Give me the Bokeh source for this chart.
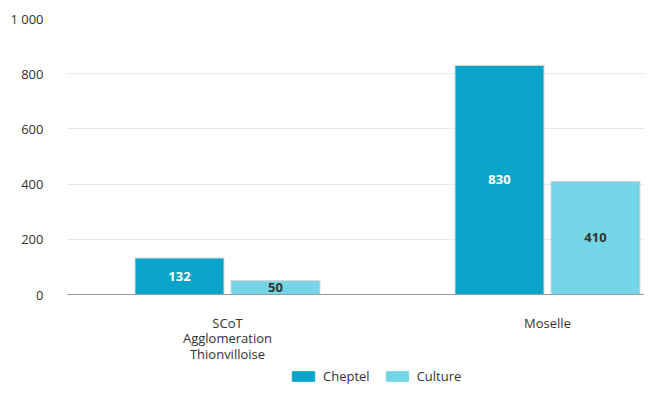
from bokeh.plotting import figure
from bokeh.layouts import column
from bokeh.models import ColumnDataSource, Range1d, FixedTicker, Legend, LegendItem
from bokeh.transform import dodge
from bokeh.embed import file_html
from bokeh.resources import INLINE
from bokeh.core.properties import value

categories = ["SCoT\nAgglomeration\nThionvilloise", "Moselle"]
series = ["Cheptel", "Culture"]
cheptel = [132, 830]
culture = [50, 410]
colors = ["#0aa4ca", "#74d5e6"]
label_colors = ["#ffffff", "#333333"]
y_ticks = [0, 200, 400, 600, 800, 1000]
y_tick_labels = ["0", "200", "400", "600", "800", "1 000"]

FONT = "Open Sans"

xs = [i + 0.5 for i in range(len(categories))]
src = ColumnDataSource(dict(
    x=xs,
    cheptel=cheptel,
    culture=culture,
    cheptel_mid=[v / 2 for v in cheptel],
    culture_mid=[v / 2 for v in culture],
    cheptel_txt=[str(v) for v in cheptel],
    culture_txt=[str(v) for v in culture],
))

p = figure(width=644, height=367, output_backend="svg", toolbar_location=None,
           x_range=Range1d(0, 577 / 320), y_range=Range1d(0, 1000),
           min_border_left=67, min_border_right=0, min_border_top=18, min_border_bottom=73)
p.outline_line_color = None

r1 = p.vbar(x=dodge("x", -0.15, range=p.x_range), top="cheptel", width=0.278, source=src,
            fill_color=colors[0], line_color="#d6d6d6", line_width=1)
r2 = p.vbar(x=dodge("x", 0.15, range=p.x_range), top="culture", width=0.278, source=src,
            fill_color=colors[1], line_color="#d6d6d6", line_width=1)

p.text(x=dodge("x", -0.15, range=p.x_range), y="cheptel_mid", text="cheptel_txt", source=src,
       text_align="center", text_baseline="middle", text_color=label_colors[0],
       text_font=value(FONT), text_font_size="13px", text_font_style="bold")
p.text(x=dodge("x", 0.15, range=p.x_range), y="culture_mid", text="culture_txt", source=src,
       text_align="center", text_baseline="middle", text_color=label_colors[1],
       text_font=value(FONT), text_font_size="13px", text_font_style="bold")

p.xgrid.grid_line_color = None
p.ygrid.grid_line_color = "#e8e8e8"
p.ygrid.ticker = FixedTicker(ticks=y_ticks)

p.yaxis.ticker = FixedTicker(ticks=y_ticks)
p.yaxis.major_label_overrides = {t: l for t, l in zip(y_ticks, y_tick_labels)}
p.yaxis.axis_line_color = None
p.yaxis.major_tick_line_color = None
p.yaxis.minor_tick_line_color = None
p.yaxis.major_label_standoff = 18
p.yaxis.major_label_text_font = FONT
p.yaxis.major_label_text_font_size = "13px"
p.yaxis.major_label_text_color = "#333333"

p.xaxis.ticker = FixedTicker(ticks=xs)
p.xaxis.major_label_overrides = {x: c for x, c in zip(xs, categories)}
p.xaxis.axis_line_color = "#999999"
p.xaxis.major_tick_line_color = None
p.xaxis.minor_tick_line_color = None
p.xaxis.major_label_standoff = 13
p.xaxis.major_label_text_font = FONT
p.xaxis.major_label_text_font_size = "13px"
p.xaxis.major_label_text_color = "#333333"
p.xaxis.major_label_text_line_height = 0.87

# legend in its own strip below the chart
lg = figure(width=644, height=18, output_backend="svg", toolbar_location=None,
            x_range=Range1d(0, 1), y_range=Range1d(0, 1),
            x_axis_location=None, y_axis_location=None,
            min_border=0, min_border_left=0, min_border_right=0, min_border_top=0, min_border_bottom=0)
lg.grid.visible = False
lg.outline_line_color = None
e1 = lg.vbar(x=[-10], top=[0], width=0.1, fill_color=colors[0], line_color=colors[0])
e2 = lg.vbar(x=[-10], top=[0], width=0.1, fill_color=colors[1], line_color=colors[1])
legend = Legend(items=[LegendItem(label=series[0], renderers=[e1]),
                       LegendItem(label=series[1], renderers=[e2])],
                orientation="horizontal", location=(222, 0),
                glyph_width=28, glyph_height=12, label_height=12, spacing=13,
                label_standoff=6,
                label_text_font=FONT, label_text_font_size="13px", label_text_color="#333333",
                border_line_color=None, background_fill_alpha=0, padding=0, margin=0)
lg.add_layout(legend)

layout = column(p, lg, spacing=0)
open("out.html", "w").write(file_html(layout, INLINE))
